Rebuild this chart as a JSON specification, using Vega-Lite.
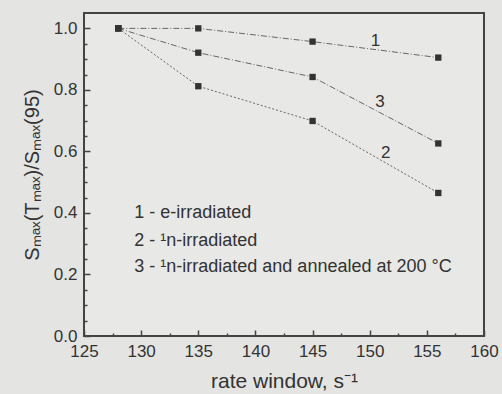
{
  "$schema": "https://vega.github.io/schema/vega-lite/v6.json",
  "width": 400,
  "height": 323,
  "autosize": {"type": "none"},
  "padding": {"left": 84, "top": 13, "right": 18, "bottom": 58},
  "background": "#e4e4e2",
  "config": {
    "view": {"stroke": "#444444", "strokeWidth": 2, "fill": "#e8e8e6"},
    "font": "Liberation Sans",
    "axis": {"domain": false, "grid": false, "labelFont": "Liberation Sans", "titleFont": "Liberation Sans", "labelColor": "#333333", "titleColor": "#333333", "tickColor": "#444444", "tickWidth": 1.5}
  },
  "datasets": {
    "pts": [
      {"series": "1", "x": 128, "y": 1.0},
      {"series": "1", "x": 135, "y": 1.0},
      {"series": "1", "x": 145, "y": 0.957},
      {"series": "1", "x": 156, "y": 0.905},
      {"series": "2", "x": 128, "y": 1.0},
      {"series": "2", "x": 135, "y": 0.812},
      {"series": "2", "x": 145, "y": 0.699},
      {"series": "2", "x": 156, "y": 0.465},
      {"series": "3", "x": 128, "y": 1.0},
      {"series": "3", "x": 135, "y": 0.921},
      {"series": "3", "x": 145, "y": 0.842},
      {"series": "3", "x": 156, "y": 0.626}
    ],
    "nums": [
      {"label": "1", "x": 150.5, "y": 0.958},
      {"label": "3", "x": 150.9, "y": 0.76},
      {"label": "2", "x": 151.4, "y": 0.594}
    ],
    "legend": [
      {"label": "1 - e-irradiated", "x": 129.4, "y": 0.40},
      {"label": "2 - ¹n-irradiated", "x": 129.4, "y": 0.31},
      {"label": "3 - ¹n-irradiated and annealed at 200 °C", "x": 129.4, "y": 0.225}
    ]
  },
  "encoding": {
    "x": {
      "field": "x", "type": "quantitative",
      "scale": {"domain": [125, 160], "nice": false, "zero": false},
      "axis": {
        "values": [125, 127.5, 130, 132.5, 135, 137.5, 140, 142.5, 145, 147.5, 150, 152.5, 155, 157.5, 160],
        "labelExpr": "datum.value % 5 == 0 ? format(datum.value, 'd') : ''",
        "tickSize": {"condition": {"test": "datum.value % 5 == 0", "value": -6}, "value": -3},
        "labelPadding": 13,
        "labelFontSize": 17,
        "labelFlush": false,
        "title": "rate window, s⁻¹",
        "titleFontSize": 21,
        "titleFontWeight": "normal",
        "titlePadding": 11
      }
    },
    "y": {
      "field": "y", "type": "quantitative",
      "scale": {"domain": [0, 1.05], "nice": false, "zero": false},
      "axis": {
        "values": [0, 0.05, 0.1, 0.15, 0.2, 0.25, 0.3, 0.35, 0.4, 0.45, 0.5, 0.55, 0.6, 0.65, 0.7, 0.75, 0.8, 0.85, 0.9, 0.95, 1.0],
        "labelExpr": "round(datum.value * 100) % 20 == 0 ? format(datum.value, '.1f') : ''",
        "tickSize": {"condition": {"test": "round(datum.value * 100) % 20 == 0", "value": -6}, "value": -3},
        "labelPadding": 13,
        "labelFontSize": 17,
        "labelFlush": false,
        "title": "Sₘₐₓ(Tₘₐₓ)/Sₘₐₓ(95)",
        "titleFontSize": 20,
        "titleFontWeight": "normal",
        "titlePadding": 11
      }
    }
  },
  "layer": [
    {
      "data": {"name": "pts"},
      "mark": {"type": "line", "color": "#666666", "strokeWidth": 1},
      "encoding": {
        "detail": {"field": "series"},
        "strokeDash": {
          "field": "series", "type": "nominal", "legend": null,
          "scale": {"domain": ["1", "2", "3"], "range": [[6, 2, 1, 2], [2, 2], [6, 2, 1, 2]]}
        }
      }
    },
    {
      "data": {"name": "pts"},
      "mark": {"type": "square", "color": "#333333", "opacity": 1, "filled": true, "size": 40}
    },
    {
      "data": {"name": "nums"},
      "mark": {"type": "text", "fontSize": 17, "color": "#333333", "align": "center", "baseline": "middle"},
      "encoding": {"text": {"field": "label"}}
    },
    {
      "data": {"name": "legend"},
      "mark": {"type": "text", "fontSize": 18, "color": "#333333", "align": "left", "baseline": "middle"},
      "encoding": {"text": {"field": "label"}}
    }
  ]
}
